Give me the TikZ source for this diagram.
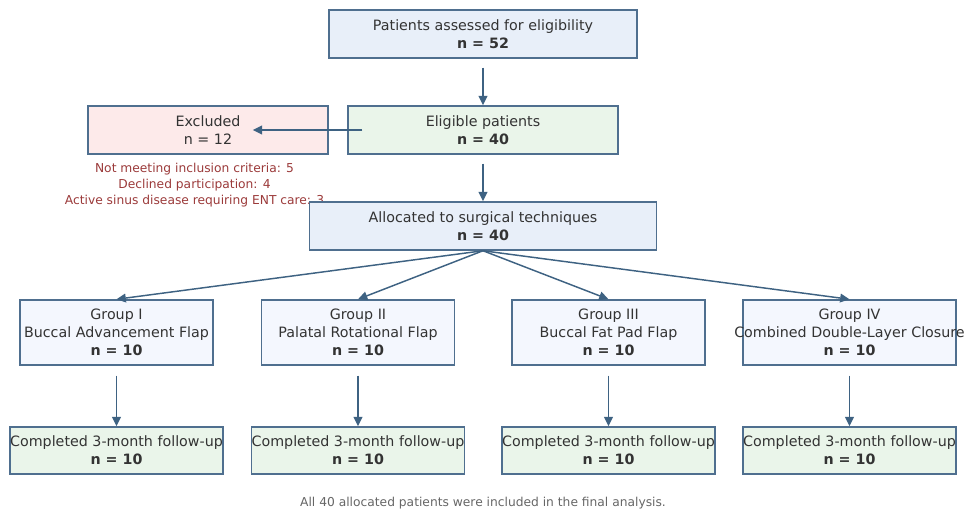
\documentclass[tikz,border=0pt]{standalone}
\usepackage{fontspec}
\setmainfont{DejaVu Sans}
\usetikzlibrary{arrows.meta}
\definecolor{edgec}{HTML}{4F6F8F}
\definecolor{arrowc}{HTML}{3E6282}
\definecolor{txtc}{HTML}{333333}
\definecolor{blueF}{HTML}{E8EFF9}
\definecolor{greenF}{HTML}{EAF5EA}
\definecolor{redF}{HTML}{FDEAEA}
\definecolor{groupF}{HTML}{F4F7FE}
\definecolor{notec}{HTML}{9B3A3A}
\definecolor{footc}{HTML}{666666}
\begin{document}
\begin{tikzpicture}[x=0.75pt, y=-0.75pt,
  box/.style={draw=edgec, line width=1.1pt, align=center, text=txtc, inner xsep=0pt, inner ysep=0pt,
    minimum height=36pt, font=\fontsize{10.7}{13.5}\selectfont},
  groupbox/.style={box, fill=groupF, minimum width=144.75pt, minimum height=48.75pt},
  donebox/.style={box, fill=greenF, minimum width=159.75pt, minimum height=35.25pt},
  arr/.style={draw=arrowc, line width=1.1pt, -{Triangle[length=7pt,width=6.5pt]}}]
\useasboundingbox (0,0) rectangle (971,514);
\node[box, fill=blueF, minimum width=231pt] (assess) at (483,34) {Patients assessed for eligibility\\\textbf{n = 52}};
\node[box, fill=greenF, minimum width=202.5pt] (elig) at (483,130) {Eligible patients\\\textbf{n = 40}};
\node[box, fill=redF, minimum width=180pt] (excl) at (208,130) {Excluded\\n = 12};
\node[align=center, text=notec, font=\fontsize{9.2}{12}\selectfont] (reasons) at (194.5,185.5)
  {Not meeting inclusion criteria: 5\\Declined participation: 4\\Active sinus disease requiring ENT care: 3};
\node[box, fill=blueF, minimum width=260.25pt] (alloc) at (483,226) {Allocated to surgical techniques\\\textbf{n = 40}};
\node[groupbox] (g1) at (116.5,332.5) {Group I\\Buccal Advancement Flap\\\textbf{n = 10}};
\node[groupbox] (g2) at (358,332.5) {Group II\\Palatal Rotational Flap\\\textbf{n = 10}};
\node[groupbox] (g3) at (608.5,332.5) {Group III\\Buccal Fat Pad Flap\\\textbf{n = 10}};
\node[groupbox, minimum width=159.75pt] (g4) at (849.5,332.5) {Group IV\\\makebox[0pt]{Combined Double-Layer Closure}\\\textbf{n = 10}};
\node[donebox] (c1) at (116.5,450.5) {Completed 3-month follow-up\\\textbf{n = 10}};
\node[donebox] (c2) at (358,450.5) {Completed 3-month follow-up\\\textbf{n = 10}};
\node[donebox] (c3) at (608.5,450.5) {Completed 3-month follow-up\\\textbf{n = 10}};
\node[donebox] (c4) at (849.5,450.5) {Completed 3-month follow-up\\\textbf{n = 10}};
\node[text=footc, font=\fontsize{9.2}{11}\selectfont] (foot) at (483,503) {All 40 allocated patients were included in the final analysis.};
\draw[arr, shorten <=6.75pt] (assess.south) -- (elig.north);
\draw[arr, shorten <=-11.25pt, shorten >=-57pt] (elig.west) -- (excl.east);
\draw[arr, shorten <=6.75pt] (elig.south) -- (alloc.north);
\foreach \g in {g1,g2,g3,g4}
  \draw[arr] (alloc.south) -- (\g.north);
\foreach \i in {1,...,4}
  \draw[arr, shorten <=7.5pt] (g\i.south) -- (c\i.north);
\end{tikzpicture}
\end{document}
